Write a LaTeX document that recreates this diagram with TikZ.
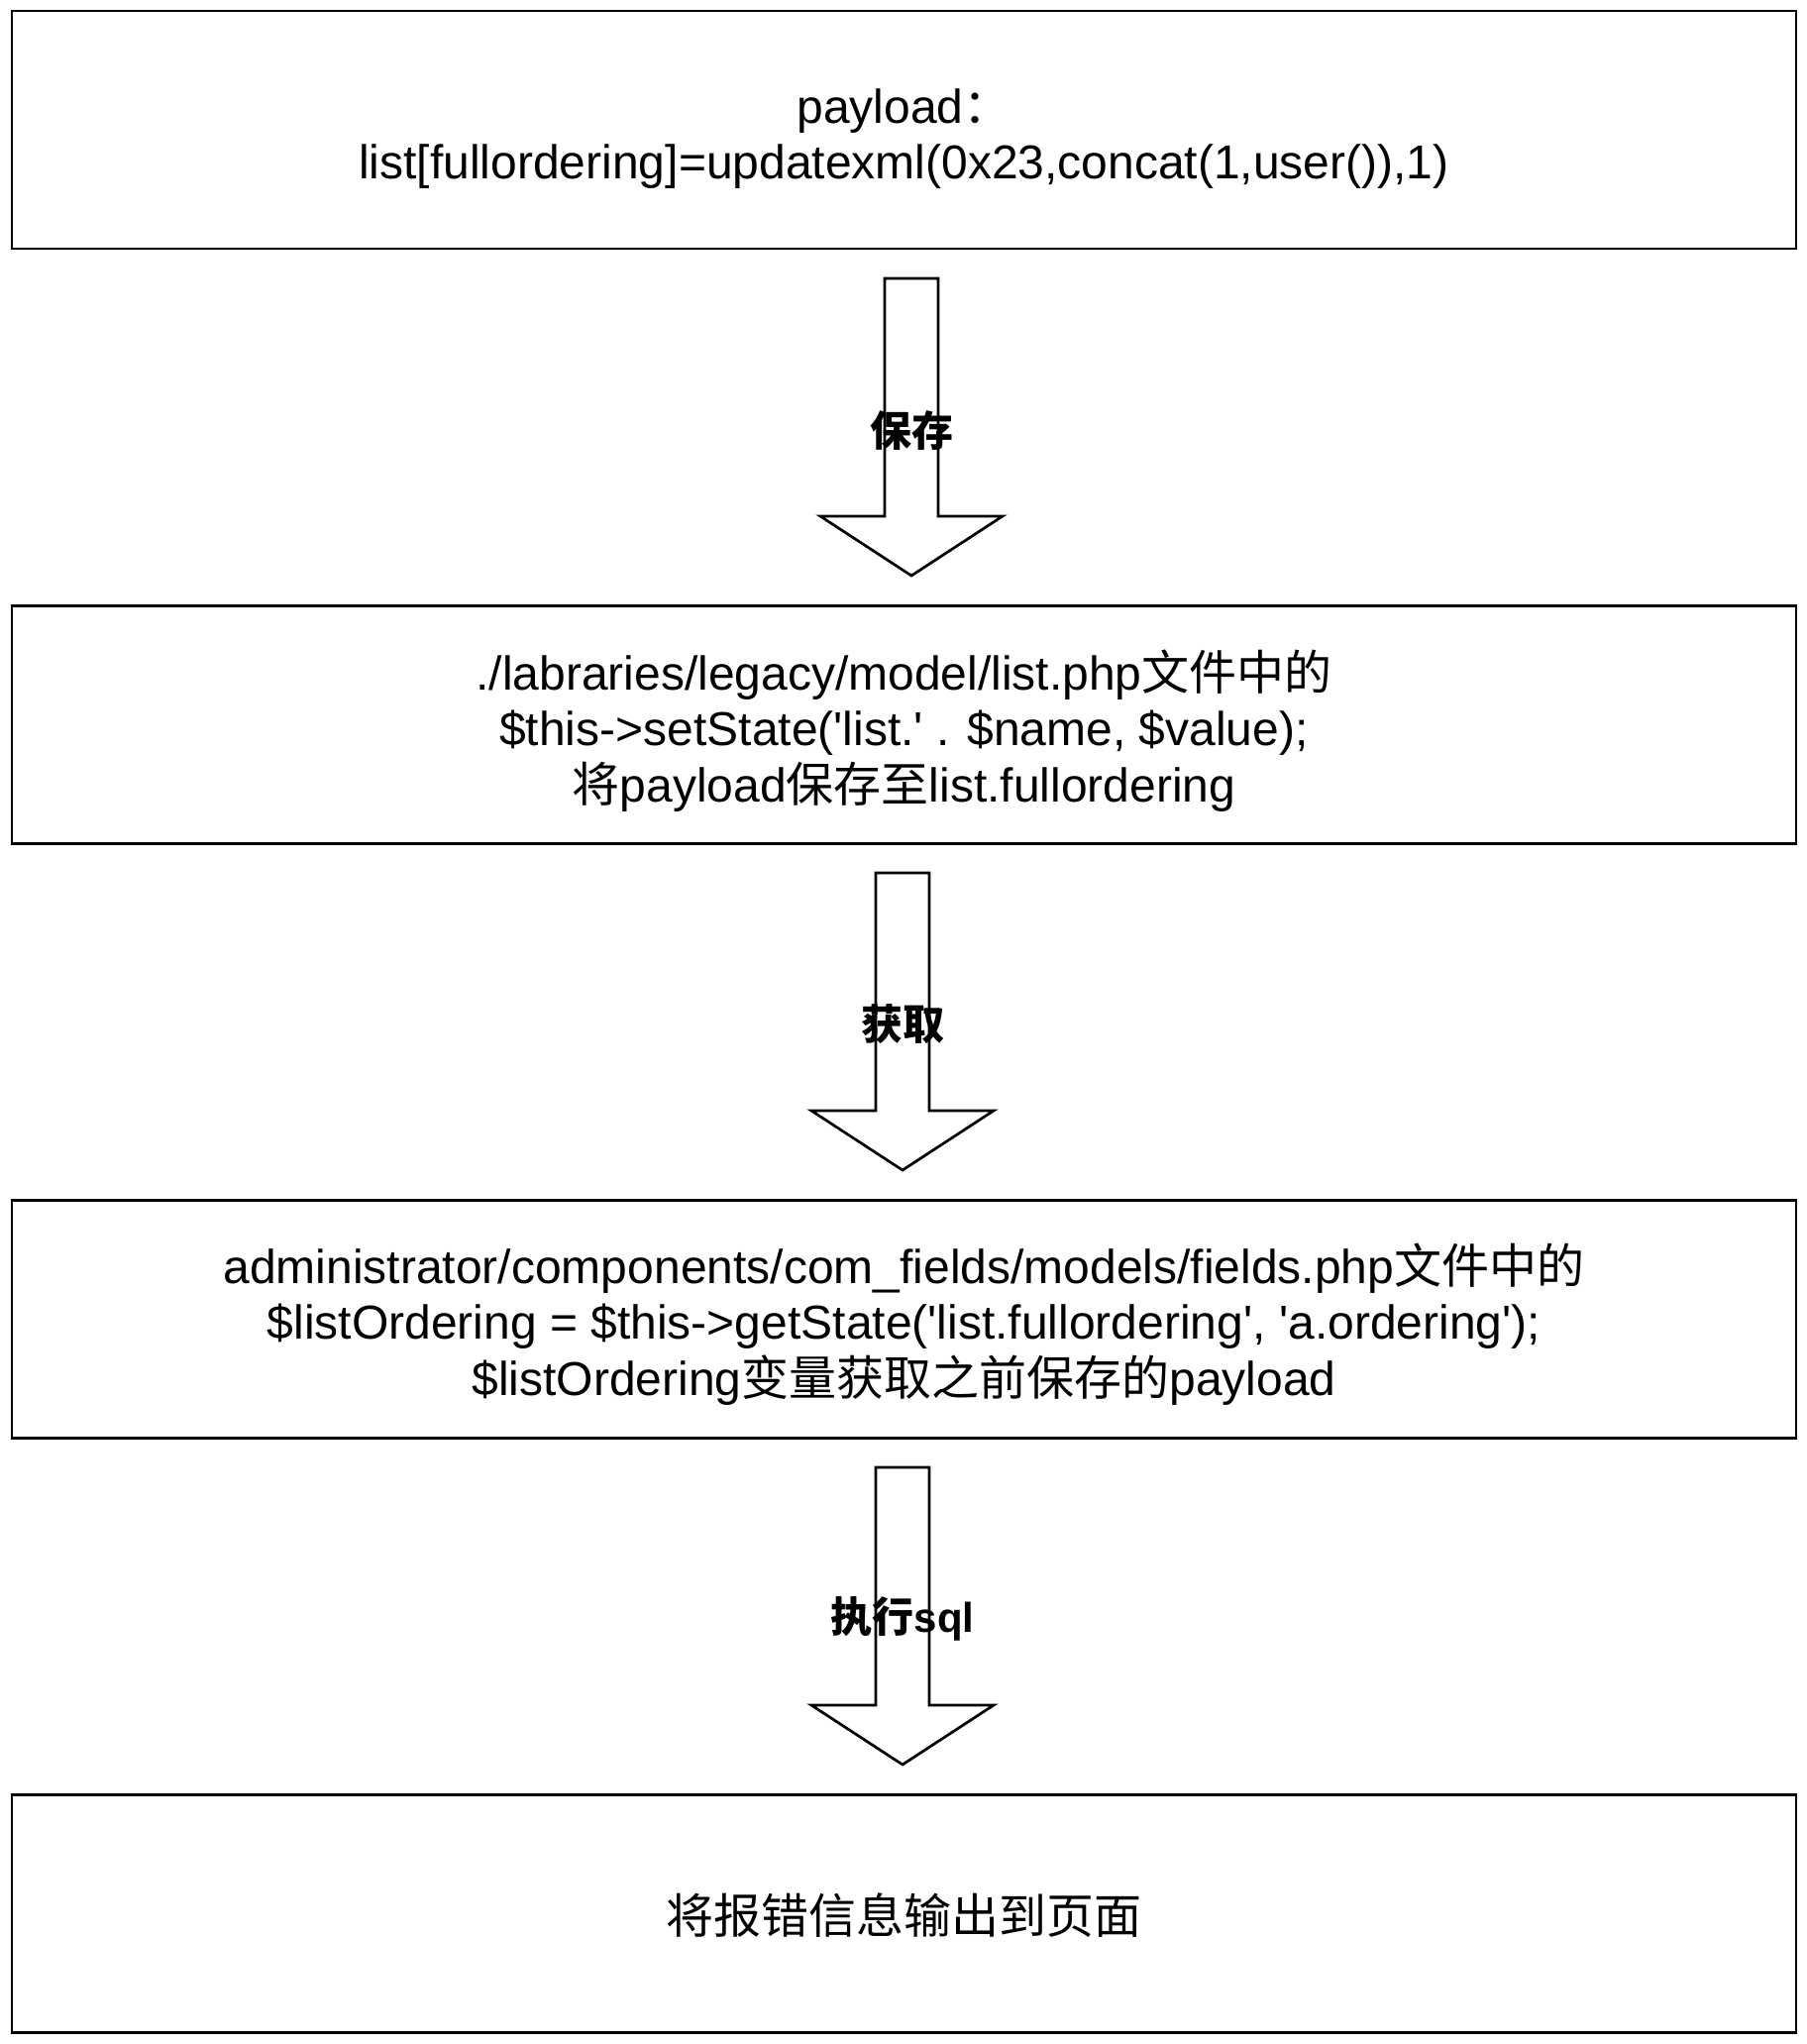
\documentclass[tikz,border=0pt]{standalone}
\usepackage{fontspec}
\setmainfont{Liberation Sans}
\newfontfamily\cjk{Noto Sans CJK SC}
\newcommand{\sq}{\textquotesingle}
\begin{document}
\begin{tikzpicture}[x=1pt,y=-1pt,
  box/.style={draw=black, line width=2.7pt, minimum width=1801pt, minimum height=240pt, inner sep=0pt},
  txt/.style={align=center, inner sep=0pt, font=\fontsize{48}{56.6}\selectfont},
  lbl/.style={font=\fontsize{42}{50}\selectfont\bfseries, inner sep=0pt},
  blockarrow/.pic={
    \draw[line width=2.7pt, line join=miter, fill=white]
      (-27,0) -- (27,0) -- (27,240) -- (92,240) -- (0,300) -- (-92,240) -- (-27,240) -- cycle;
  }]
\useasboundingbox (0,0) rectangle (1823,2063);

\node[box] (b1) at (912.5,131) {};
\node[txt] (t1) at ([yshift=-9pt]b1.center) {payload{\cjk ：}\\list[fullordering]=updatexml(0x23,concat(1,user()),1)};
\node[box] (b2) at (912.5,731.5) {};
\node[txt] (t2) at ([yshift=-6pt]b2.center) {./labraries/legacy/model/list.php{\cjk 文件中的}\\\$this->setState(\sq list.\sq\ . \$name, \$value);\\{\cjk 将}payload{\cjk 保存至}list.fullordering};
\node[box] (b3) at (912.5,1331.5) {};
\node[txt] (t3) at ([yshift=-5pt]b3.center) {administrator/components/com\_fields/models/fields.php{\cjk 文件中的}\\\$listOrdering = \$this->getState(\sq list.fullordering\sq, \sq a.ordering\sq);\\\$listOrdering{\cjk 变量获取之前保存的}payload};
\node[box] (b4) at (912.5,1931.5) {};
\node[txt] (t4) at ([yshift=-2pt]b4.center) {{\cjk 将报错信息输出到页面}};

\pic at (920,281) {blockarrow};
\node[lbl] (l1) at (920,435) {{\cjk 保存}};
\pic at (911,881) {blockarrow};
\node[lbl] (l2) at (911,1034) {{\cjk 获取}};
\pic at (911,1481) {blockarrow};
\node[lbl] (l3) at (911,1634) {{\cjk 执行}sql};
\end{tikzpicture}
\end{document}
